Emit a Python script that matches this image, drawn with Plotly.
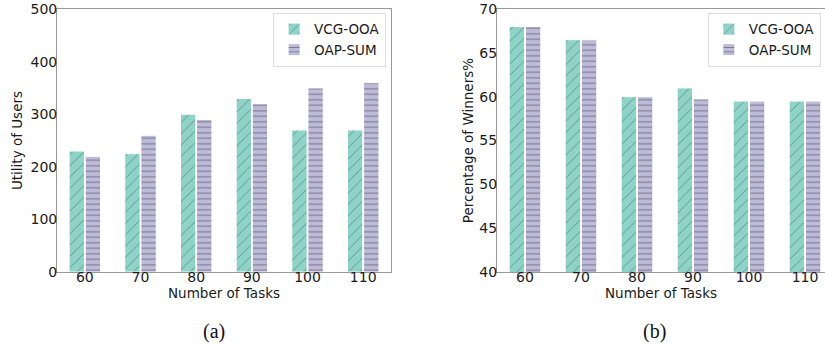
import plotly.graph_objects as go

tasks = ["60", "70", "80", "90", "100", "110"]
utility_vcg = [230, 225, 300, 330, 270, 270]
utility_oap = [220, 260, 290, 320, 350, 360]
winners_vcg = [68, 66.5, 60, 61, 59.5, 59.5]
winners_oap = [68, 66.5, 60, 59.75, 59.5, 59.5]

TEAL = "#8dd3c7"
PURPLE = "#bebada"
HATCH = "rgba(40,40,40,0.9)"
FONT = "DejaVu Sans"

def bar(x, y, name, color, shape, size, sol, xa, ya, legend):
    return go.Bar(
        x=x, y=y, name=name, xaxis=xa, yaxis=ya, legend=legend,
        marker=dict(color=color, line=dict(color="white", width=1),
                    pattern=dict(shape=shape, fgcolor=HATCH, size=size, solidity=sol,
                                 fillmode="overlay")),
    )

fig = go.Figure()
fig.add_trace(bar(tasks, utility_vcg, "VCG-OOA", TEAL, "/", 8, 0.1, "x", "y", "legend"))
fig.add_trace(bar(tasks, utility_oap, "OAP-SUM", PURPLE, "-", 5.5, 0.2, "x", "y", "legend"))
fig.add_trace(bar(tasks, winners_vcg, "VCG-OOA", TEAL, "/", 8, 0.1, "x2", "y2", "legend2"))
fig.add_trace(bar(tasks, winners_oap, "OAP-SUM", PURPLE, "-", 5.5, 0.2, "x2", "y2", "legend2"))

axis_common = dict(showgrid=False, showline=True, linecolor="#999999", linewidth=1,
                   ticks="", zeroline=False, tickfont=dict(family=FONT, size=14, color="#1a1a1a"))

YDOM = [0.216, 0.974]

fig.update_layout(
    width=825, height=347,
    margin=dict(l=0, r=0, t=0, b=0, autoexpand=False),
    paper_bgcolor="white", plot_bgcolor="white",
    barmode="group", bargap=0.42, bargroupgap=0.05,
    font=dict(family=FONT, size=14, color="#1a1a1a"),
    xaxis=dict(domain=[0.0691, 0.474], anchor="y", range=[-0.5, 5.5], mirror=True,
               ticklabelstandoff=-8,
               title=dict(text="Number of Tasks", standoff=2, font=dict(size=13.5)), **axis_common),
    yaxis=dict(domain=YDOM, anchor="x", range=[0, 500], dtick=100, mirror=True,
               ticklabelstandoff=-4,
               title=dict(text="Utility of Users", standoff=4, font=dict(size=13.5)), **axis_common),
    xaxis2=dict(domain=[0.6024, 1.0], anchor="y2", range=[-0.5, 5.357], mirror=True,
                ticklabelstandoff=-8,
                title=dict(text="Number of Tasks", standoff=2, font=dict(size=13.5)), **axis_common),
    yaxis2=dict(domain=YDOM, anchor="x2", range=[40, 70], dtick=5, mirror=False,
                ticklabelstandoff=-4,
                title=dict(text="Percentage of Winners%", standoff=2, font=dict(size=13.5)), **axis_common),
    legend=dict(x=0.468, xanchor="right", y=0.963, yanchor="top", bgcolor="white",
                bordercolor="#dddddd", borderwidth=1, font=dict(family=FONT, size=13.5),
                itemwidth=30),
    legend2=dict(x=0.858, xanchor="left", y=0.963, yanchor="top", bgcolor="white",
                 bordercolor="#dddddd", borderwidth=1, font=dict(family=FONT, size=13.5),
                 itemwidth=30),
    annotations=[
        dict(text="(a)", x=0.2594, y=0.046, xref="paper", yref="paper", showarrow=False,
             xanchor="center", yanchor="middle",
             font=dict(family="Liberation Serif", size=20, color="#111")),
        dict(text="(b)", x=0.7939, y=0.046, xref="paper", yref="paper", showarrow=False,
             xanchor="center", yanchor="middle",
             font=dict(family="Liberation Serif", size=20, color="#111")),
    ],
)

fig.write_html("out.html", config={"displayModeBar": False},
               post_script="document.body.style.margin='0';")
